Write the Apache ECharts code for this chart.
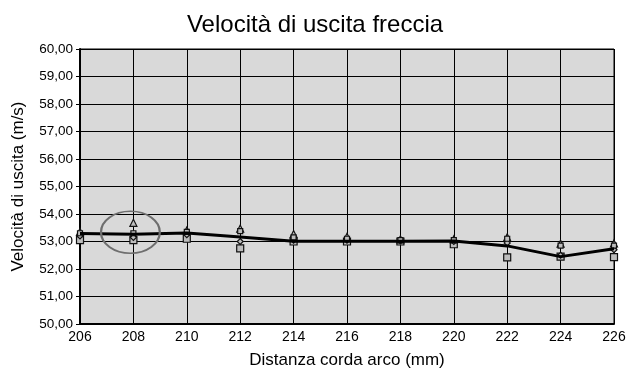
<!DOCTYPE html>
<html>
<head>
<meta charset="utf-8">
<script src="https://cdn.jsdelivr.net/npm/echarts@6/dist/echarts.min.js"></script>
<style>
  html, body { margin: 0; padding: 0; background: #fff; }
  #chart { width: 642px; height: 374px; }
</style>
</head>
<body>
<div id="chart"></div>
<script>
// distanza corda arco (mm)
var distances = [206, 208, 210, 212, 214, 216, 218, 220, 222, 224, 226];
// singoli tiri (m/s)
var tiro1 = [53.05, 53.05, 53.10, 52.75, 53.00, 53.00, 53.00, 52.90, 52.42, 52.45, 52.43];
var tiro2 = [53.35, 53.68, 53.40, 53.47, 53.27, 53.17, 53.08, 53.08, 53.15, 52.92, 52.93];
var tiro3 = [53.20, 53.15, 53.25, 53.00, 53.05, 53.05, 53.02, 53.00, 52.95, 52.50, 52.70];
var tiro4 = [53.30, 53.30, 53.35, 53.38, 53.15, 53.10, 53.05, 53.05, 53.10, 52.85, 52.85];
// media
var media = [53.29, 53.26, 53.31, 53.16, 53.01, 53.01, 53.01, 53.02, 52.84, 52.45, 52.74];

function pairs(arr) {
  return distances.map(function (d, i) { return [d, arr[i]]; });
}

var FONT = "Liberation Sans, Arial, sans-serif";

function markerSeries(name, data, symbol, size) {
  return {
    name: name,
    type: "line",
    data: pairs(data),
    symbol: symbol,
    symbolSize: size,
    showSymbol: true,
    lineStyle: { width: 0, opacity: 0 },
    itemStyle: { color: "#bdbdbd", borderColor: "#111", borderWidth: 1.2 },
    z: 3
  };
}

var chart = echarts.init(document.getElementById("chart"));
var option = {
  animation: false,
  title: {
    text: "Velocità di uscita freccia",
    left: 310,
    textAlign: "center",
    top: 8,
    textStyle: { fontFamily: FONT, fontSize: 24, fontWeight: "normal", color: "#000" }
  },
  grid: {
    show: true,
    left: 80,
    right: 28,
    top: 49,
    bottom: 49,
    backgroundColor: "#d9d9d9",
    borderColor: "#000",
    borderWidth: 1
  },
  xAxis: {
    type: "value",
    min: 206,
    max: 226,
    interval: 2,
    name: "Distanza corda arco (mm)",
    nameLocation: "middle",
    nameGap: 28,
    nameTextStyle: { fontFamily: FONT, fontSize: 17, color: "#000" },
    axisLine: { show: true, lineStyle: { color: "#000", width: 2 } },
    axisTick: { show: false },
    axisLabel: { fontFamily: FONT, fontSize: 14, color: "#000", margin: 6 },
    splitLine: { show: true, lineStyle: { color: "#000", width: 1 } }
  },
  yAxis: {
    type: "value",
    min: 50,
    max: 60,
    interval: 1,
    name: "Velocità di uscita (m/s)",
    nameLocation: "middle",
    nameGap: 53,
    nameTextStyle: { fontFamily: FONT, fontSize: 17, color: "#000" },
    axisLine: { show: true, lineStyle: { color: "#000", width: 2 } },
    axisTick: { show: true, length: 4, inside: false, lineStyle: { color: "#000" } },
    axisLabel: {
      fontFamily: FONT, fontSize: 13.5, color: "#000", margin: 7,
      formatter: function (v) { return v.toFixed(2).replace(".", ","); }
    },
    splitLine: { show: true, lineStyle: { color: "#000", width: 1 } }
  },
  series: [
    markerSeries("Tiro 1", tiro1, "rect", 7),
    markerSeries("Tiro 2", tiro2, "triangle", 7),
    markerSeries("Tiro 3", tiro3, "diamond", 6),
    markerSeries("Tiro 4", tiro4, "rect", 5),
    {
      name: "Media",
      type: "line",
      data: pairs(media),
      symbol: "none",
      lineStyle: { color: "#000", width: 3 },
      z: 4
    }
  ]
};
chart.setOption(option);

// cerchio disegnato a mano attorno al punto 208
var c = chart.convertToPixel({ gridIndex: 0 }, [208, 53.3]);
chart.setOption({
  graphic: [{
    type: "circle",
    x: c[0] - 3,
    y: c[1] - 1,
    scaleX: 1.4,
    scaleY: 1,
    shape: { cx: 0, cy: 0, r: 21 },
    style: { fill: "none", stroke: "#6e6e6e", lineWidth: 1.6 },
    z: 10
  }]
});
</script>
</body>
</html>
